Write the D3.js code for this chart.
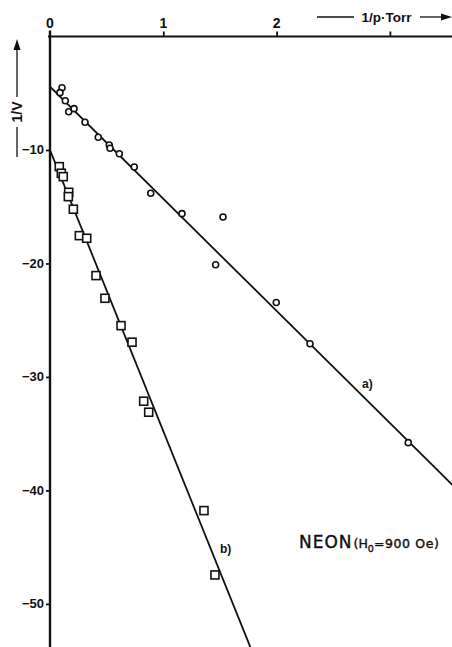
<!DOCTYPE html>
<html><head><meta charset="utf-8">
<script src="https://cdn.jsdelivr.net/npm/d3@7"></script>
<style>body{margin:0;background:#fff}svg{display:block}text{font-family:"Liberation Sans",Arial,sans-serif;fill:#111}</style>
</head><body>
<script>
// Series a (circles): [1/p, 1/V]
const seriesA = [
  [0.106,-4.51],[0.088,-4.95],[0.135,-5.66],[0.165,-6.63],[0.212,-6.36],
  [0.309,-7.56],[0.426,-8.88],[0.523,-9.56],[0.530,-9.85],[0.612,-10.33],
  [0.744,-11.50],[0.889,-13.81],[1.165,-15.61],[1.527,-15.90],[1.462,-20.11],
  [1.997,-23.44],[2.295,-27.07],[3.162,-35.79]
];
// Series b (squares)
const seriesB = [
  [0.082,-11.47],[0.100,-12.05],[0.117,-12.35],[0.165,-13.73],[0.162,-14.11],
  [0.206,-15.22],[0.259,-17.55],[0.324,-17.78],[0.406,-21.07],[0.485,-23.07],
  [0.627,-25.48],[0.724,-26.94],[0.827,-32.14],[0.871,-33.11],[1.359,-41.78],
  [1.456,-47.45]
];
// Fitted lines (endpoints)
const lineA = [[0,-4.42],[3.56,-39.6]];
const lineB = [[0,-10.0],[1.78,-54.1]];
const xTicks = [1,2,3];
const xTickLabels = ["0","1","2"];
const xTickLabelValues = [0,1,2];
const yTicks = [-10,-20,-30,-40,-50];

const W=452,H=647;
const x = d3.scaleLinear().domain([0,3.55]).range([50,452.2]);
const y = d3.scaleLinear().domain([0,-53.8]).range([36.5,647]);

const svg = d3.select("body").append("svg").attr("width",W).attr("height",H);
svg.append("defs").append("clipPath").attr("id","clip")
  .append("rect").attr("x",50).attr("y",36.5).attr("width",W-50).attr("height",H-36.5);

// top axis
const xAxis = d3.axisTop(x).tickValues(xTicks).tickSize(5).tickFormat("");
const gx = svg.append("g").attr("transform",`translate(0,${y(0)})`).call(xAxis);
gx.select(".domain").remove();
gx.selectAll(".tick line").attr("stroke","#111").attr("stroke-width",1.8);
svg.append("line").attr("x1",48).attr("x2",W).attr("y1",y(0)).attr("y2",y(0)).attr("stroke","#111").attr("stroke-width",2.2);
svg.selectAll(".xlab").data(xTickLabelValues).enter().append("text")
  .attr("x",(d)=>x(d)).attr("y",28).attr("text-anchor","middle")
  .attr("font-size",14).attr("font-weight","bold").text((d,i)=>xTickLabels[i]);

// left axis
const yAxis = d3.axisLeft(y).tickValues(yTicks).tickSize(4).tickFormat("");
const gy = svg.append("g").attr("transform",`translate(${x(0)},0)`).call(yAxis);
gy.select(".domain").remove();
gy.selectAll(".tick line").attr("stroke","#111").attr("stroke-width",1.8);
svg.append("line").attr("x1",x(0)).attr("x2",x(0)).attr("y1",y(0)-6).attr("y2",H).attr("stroke","#111").attr("stroke-width",2.4);
svg.selectAll(".ylab").data(yTicks).enter().append("text")
  .attr("x",44).attr("y",(d)=>y(d)+4.5).attr("text-anchor","end")
  .attr("font-size",13).attr("font-weight","bold").text((d)=>"\u2212"+Math.abs(d));

// x axis title with arrow
svg.append("line").attr("x1",317).attr("x2",354).attr("y1",17).attr("y2",17).attr("stroke","#111").attr("stroke-width",1.3);
svg.append("text").attr("x",386.5).attr("y",21.5).attr("text-anchor","middle").attr("font-size",13.5).attr("font-weight","bold").text("1/p\u00b7Torr");
svg.append("line").attr("x1",420).attr("x2",442).attr("y1",17).attr("y2",17).attr("stroke","#111").attr("stroke-width",1.3);
svg.append("path").attr("d","M441,13.5 L452,17 L441,20.5 Z").attr("fill","#111");

// y axis title with arrow
svg.append("line").attr("x1",17).attr("x2",17).attr("y1",48).attr("y2",97).attr("stroke","#111").attr("stroke-width",1.3);
svg.append("path").attr("d","M13.5,50 L17,39 L20.5,50 Z").attr("fill","#111");
svg.append("text").attr("transform","translate(22,112) rotate(-90)").attr("text-anchor","middle").attr("font-size",14).attr("font-weight","bold").text("1/V");
svg.append("line").attr("x1",17).attr("x2",17).attr("y1",127).attr("y2",157).attr("stroke","#111").attr("stroke-width",1.3);

// fitted lines
const line = d3.line().x(d=>x(d[0])).y(d=>y(d[1]));
const plot = svg.append("g").attr("clip-path","url(#clip)");
plot.append("path").datum(lineA).attr("d",line).attr("fill","none").attr("stroke","#111").attr("stroke-width",1.8);
plot.append("path").datum(lineB).attr("d",line).attr("fill","none").attr("stroke","#111").attr("stroke-width",1.8);

// markers
plot.selectAll(".ca").data(seriesA).enter().append("circle")
  .attr("cx",d=>x(d[0])).attr("cy",d=>y(d[1])).attr("r",3)
  .attr("fill","#fff").attr("stroke","#111").attr("stroke-width",1.6);
plot.selectAll(".sb").data(seriesB).enter().append("rect")
  .attr("x",d=>x(d[0])-4).attr("y",d=>y(d[1])-4).attr("width",8).attr("height",8)
  .attr("fill","#fff").attr("stroke","#111").attr("stroke-width",1.6);

// labels
svg.append("text").attr("x",362).attr("y",388).attr("font-size",12).attr("font-weight","bold").text("a)");
svg.append("text").attr("x",220).attr("y",553).attr("font-size",12).attr("font-weight","bold").text("b)");
const t = svg.append("text").attr("x",299).attr("y",548)
  .style("font-family","'DejaVu Sans',sans-serif").attr("stroke","#111").attr("stroke-width",0.4);
t.append("tspan").attr("font-size",17).attr("letter-spacing",1).text("NEON");
t.append("tspan").attr("font-size",12.5).attr("dx",1).text("(H");
t.append("tspan").attr("font-size",9.5).attr("dy",4).text("0");
t.append("tspan").attr("font-size",12.5).attr("dy",-4).attr("letter-spacing",0.6).text("=900 Oe)");
</script>
</body></html>
